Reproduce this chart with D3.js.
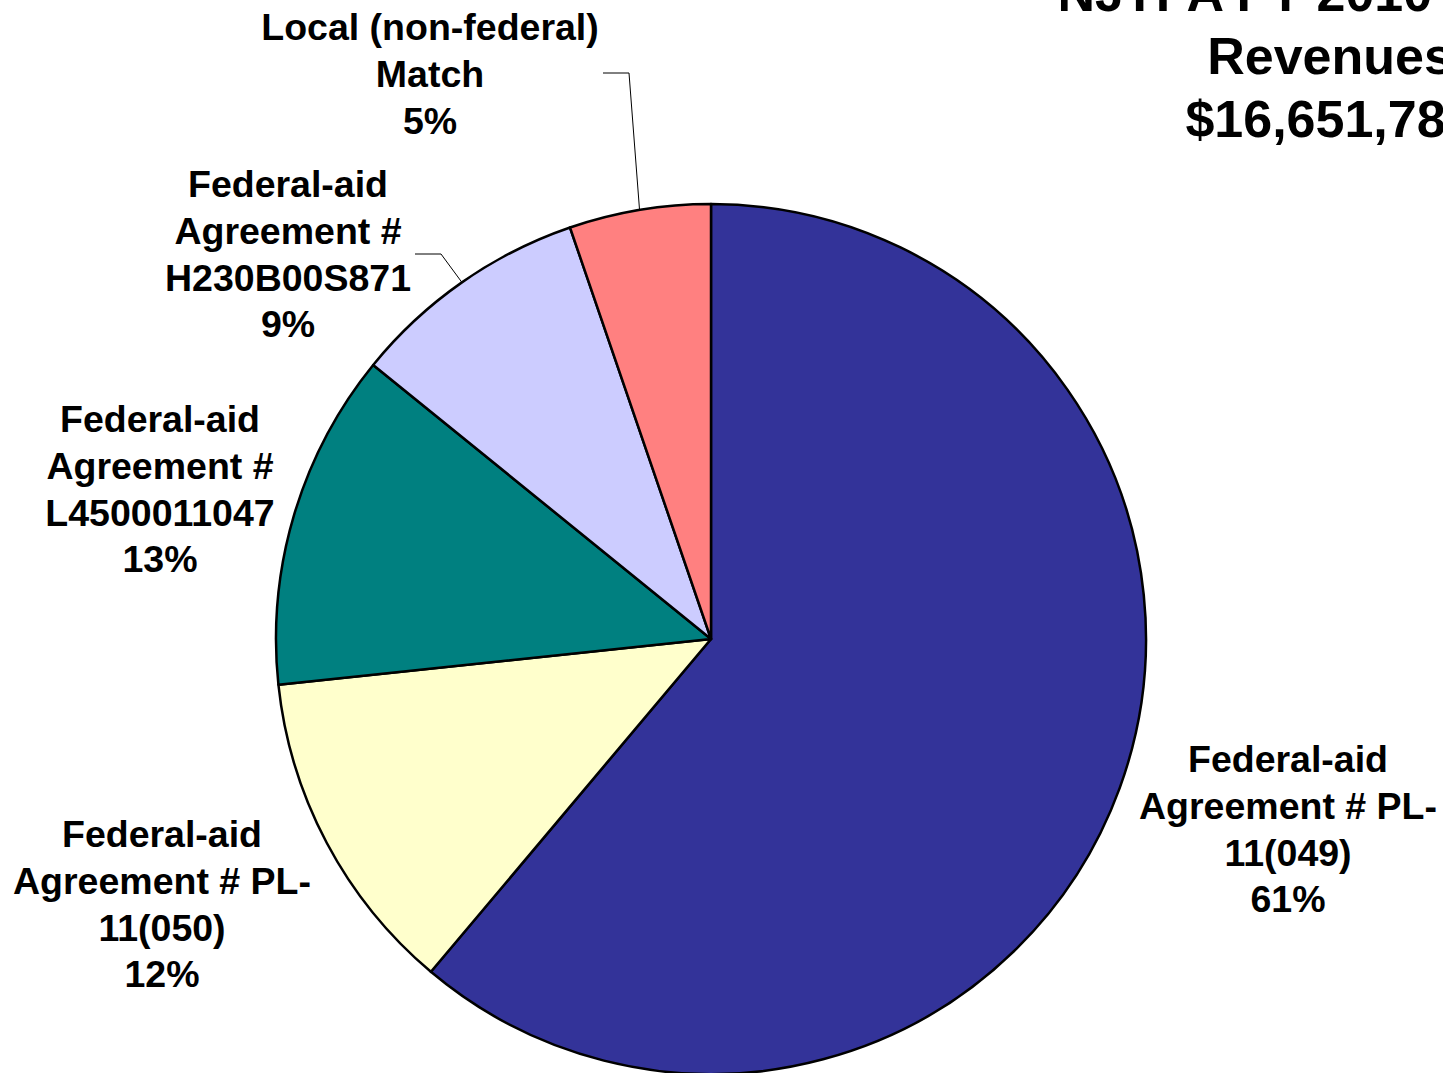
<!DOCTYPE html>
<html>
<head>
<meta charset="utf-8">
<script src="https://cdn.jsdelivr.net/npm/d3@7"></script>
<style>
  body { margin: 0; background: #fff; overflow: hidden; }
  svg { display: block; font-family: "Liberation Sans", Arial, sans-serif; font-weight: bold; }
</style>
</head>
<body>
<svg id="chart" width="1443" height="1073"></svg>
<script>
// slice data (dollars), clockwise from 12 o'clock
var sources = [
    ["Federal-aid", "Agreement # PL-", "11(049)"],
    ["Federal-aid", "Agreement # PL-", "11(050)"],
    ["Federal-aid", "Agreement #", "L4500011047"],
    ["Federal-aid", "Agreement #", "H230B00S871"],
    ["Local (non-federal)", "Match"]
];
var amounts = [10180000, 2030000, 2085000, 1482000, 874789];
var colors = ["#333399", "#FFFFCC", "#008080", "#CCCCFF", "#FF8080"];
var titleLines = ["NJTPA FY 2010 UPWP", "Revenues"];

var width = 1443, height = 1073;
var cx = 711, cy = 639, radius = 435;

// label layout: centre x, first baseline, optional leader (start x, y, elbow x)
var labelPos = [
    {x: 1288, y: 772},
    {x: 162, y: 847},
    {x: 160, y: 432},
    {x: 288, y: 197, leader: [415, 254, 441]},
    {x: 430, y: 40, leader: [603, 73, 629]}
];
var lineH = 46.8;

var data = amounts.map(function(v, i) {
    return {name: sources[i], value: v, color: colors[i]};
});
var total = d3.sum(amounts);
var pct = d3.format(".0%");

var svg = d3.select("#chart");

var pie = d3.pie()
    .sort(null)
    .value(function(d) { return d.value; });

var arc = d3.arc()
    .innerRadius(0)
    .outerRadius(radius);

var arcs = pie(data);

var g = svg.append("g")
    .attr("transform", "translate(" + cx + "," + cy + ")");

g.selectAll("path")
    .data(arcs)
    .enter()
    .append("path")
    .attr("d", arc)
    .attr("fill", function(d) { return d.data.color; })
    .attr("stroke", "#000")
    .attr("stroke-width", 2.5)
    .attr("stroke-linejoin", "round");

// leader lines, ending on the rim at the slice's mid angle
arcs.forEach(function(d, i) {
    var lp = labelPos[i];
    if (!lp.leader) return;
    var mid = (d.startAngle + d.endAngle) / 2;
    var ex = cx + radius * Math.sin(mid);
    var ey = cy - radius * Math.cos(mid);
    svg.append("polyline")
        .attr("points", [[lp.leader[0], lp.leader[1]], [lp.leader[2], lp.leader[1]], [ex, ey]].map(function(p) { return p.join(","); }).join(" "))
        .attr("fill", "none")
        .attr("stroke", "#000")
        .attr("stroke-width", 1);
});

// slice labels
arcs.forEach(function(d, i) {
    var lp = labelPos[i];
    var lines = d.data.name.concat([pct(d.data.value / total)]);
    var t = svg.append("text")
        .attr("text-anchor", "middle")
        .attr("font-size", 37.5)
        .attr("fill", "#000");
    lines.forEach(function(s, k) {
        t.append("tspan")
            .attr("x", lp.x)
            .attr("y", lp.y + k * lineH)
            .text(s);
    });
});

// title (runs off the top right edge, as in the original)
var title = titleLines.concat([d3.format("$,")(total)]);
var tt = svg.append("text")
    .attr("text-anchor", "middle")
    .attr("font-size", 52)
    .attr("fill", "#000");
title.forEach(function(s, k) {
    tt.append("tspan")
        .attr("x", 1330)
        .attr("y", 11 + k * 63)
        .text(s);
});
</script>
</body>
</html>
